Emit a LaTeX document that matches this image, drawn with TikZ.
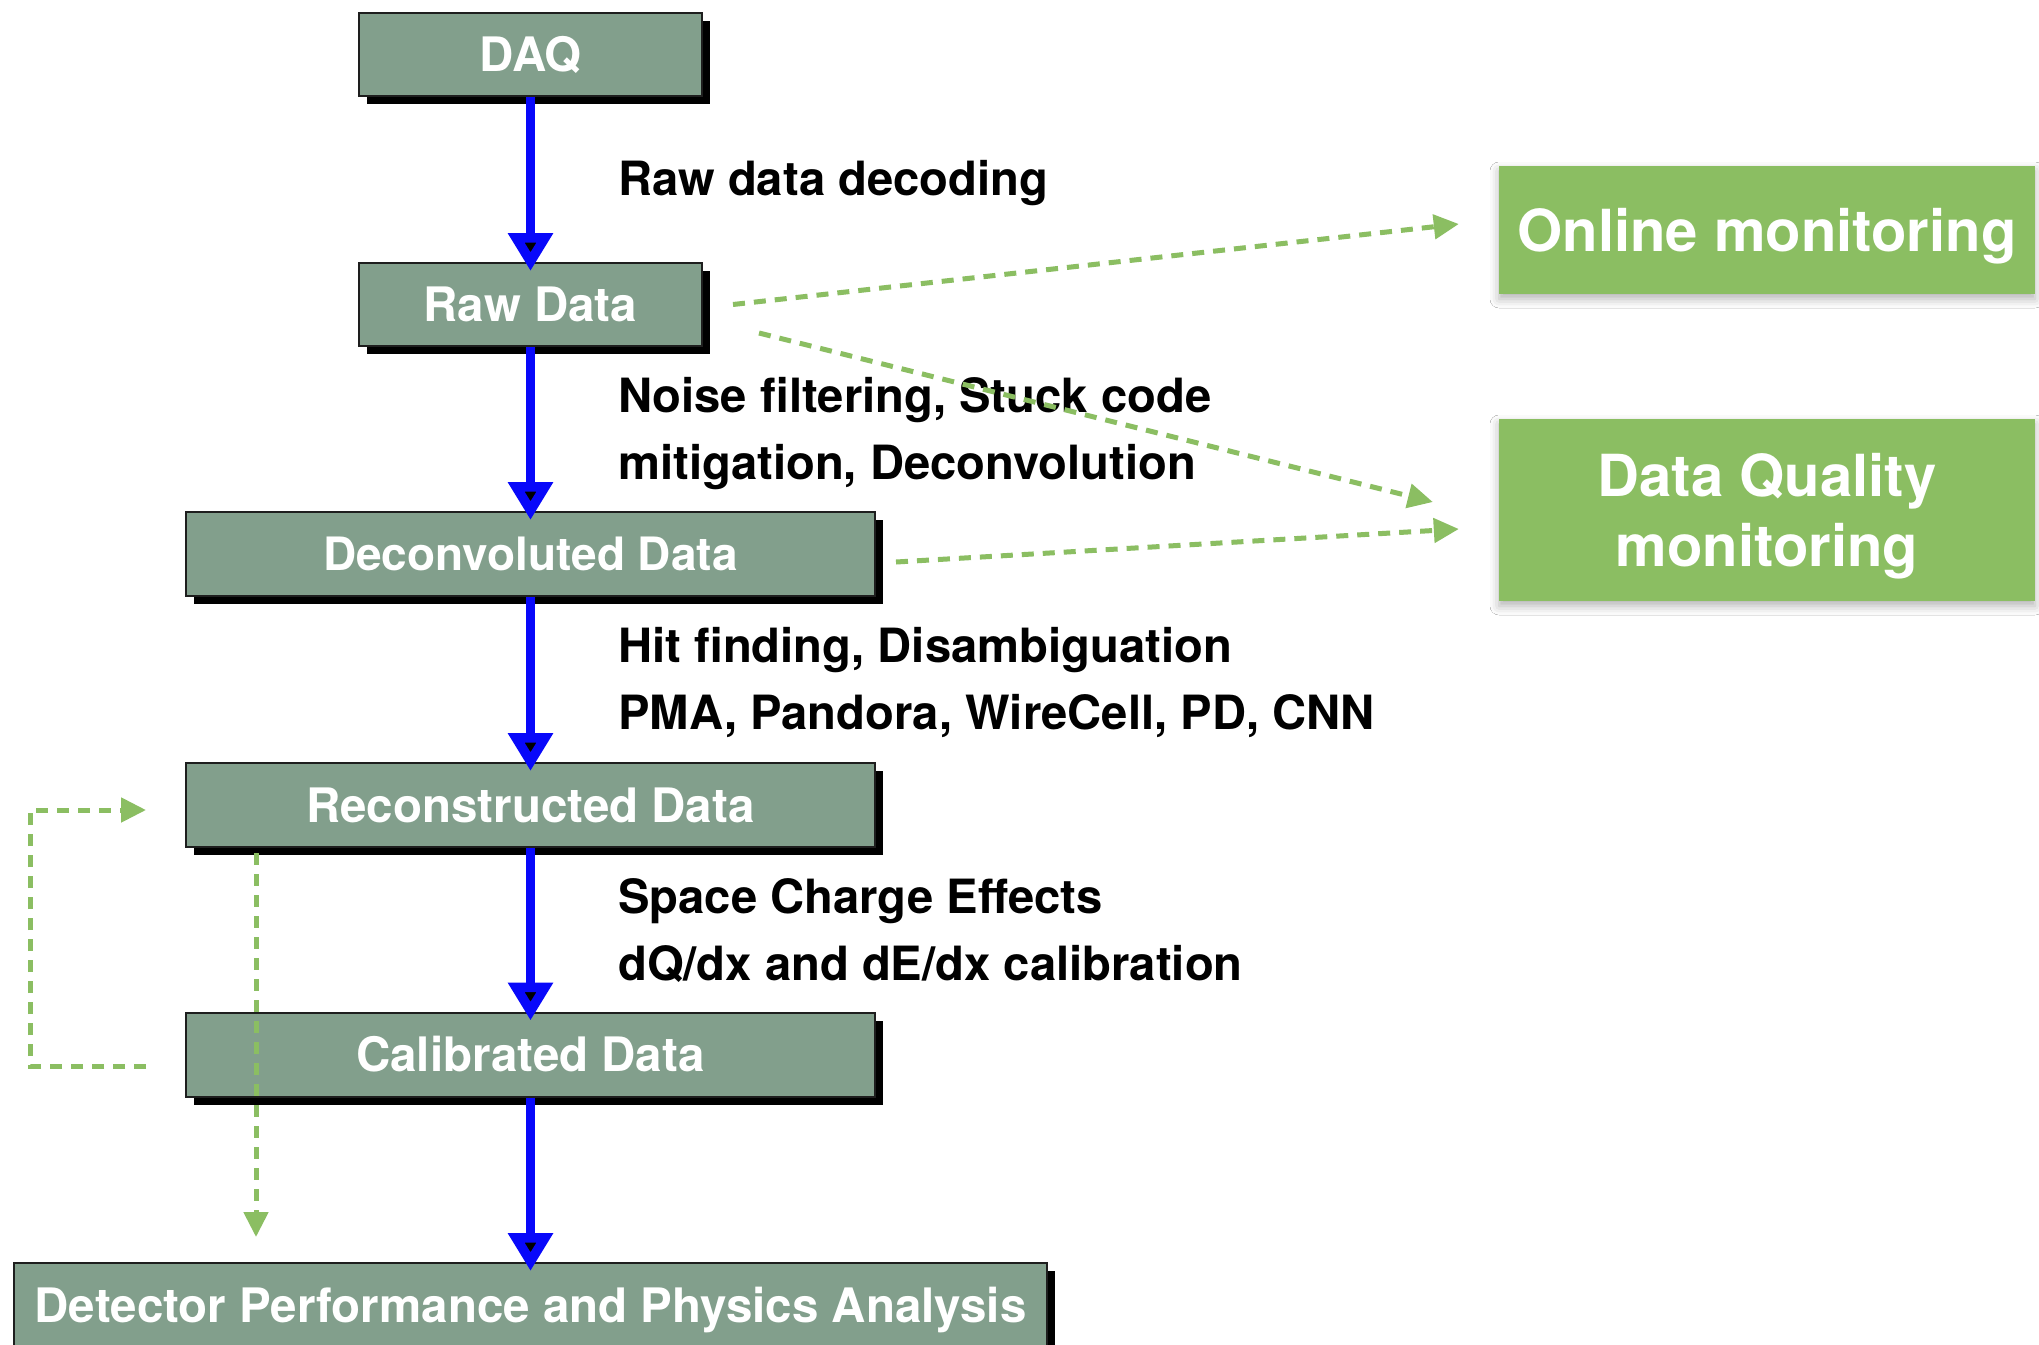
\documentclass[tikz,border=0pt]{standalone}
\usepackage{fontspec}
\setmainfont{TeX Gyre Heros}
\usetikzlibrary{arrows.meta,shadows,shadows.blur,calc}

\definecolor{boxgray}{RGB}{130,159,140}
\definecolor{boxedge}{RGB}{30,30,30}
\definecolor{monigreen}{RGB}{139,190,98}
\definecolor{flowblue}{RGB}{8,8,250}

\begin{document}
\begin{tikzpicture}[x=1pt,y=-1pt,
  stage/.style={draw=boxedge, line width=2pt, fill=boxgray, text=white,
    font=\fontsize{47.5}{57}\selectfont\bfseries, text height=34pt, text depth=0pt,
    inner sep=0pt,
    drop shadow={shadow xshift=8pt, shadow yshift=-8pt, fill=black, opacity=1}},
  monitor/.style={fill=monigreen, text=white, inner sep=0pt,
    font=\fontsize{58}{70}\selectfont\bfseries,
    blur shadow={shadow xshift=0pt, shadow yshift=-5pt, shadow blur radius=9pt, shadow opacity=30}},
  note/.style={anchor=base west, inner sep=0pt, font=\fontsize{47.2}{67}\selectfont\bfseries},
  flow/.style={draw=flowblue, line width=9pt, shorten >=-9pt,
    -{Triangle[length=38pt, width=43pt, line width=10pt, fill=black]}},
  feed/.style={draw=monigreen, line width=5pt, dash pattern=on 12pt off 9pt,
    -{Triangle[length=25pt, width=24pt]}}
]
\useasboundingbox (0,0) rectangle (2039,1344);
\clip (0,0) rectangle (2039,1344);
\fill[white] (0,0) rectangle (2039,1344);

% processing chain
\node[stage, minimum width=343pt, minimum height=83pt] (daq) at (530.5,54) {DAQ};
\node[stage, minimum width=343pt, minimum height=83pt] (raw) at (530.5,304.5) {Raw Data};
\node[stage, minimum width=689pt, minimum height=84pt, font=\fontsize{46}{55}\selectfont\bfseries, text height=33pt] (deconv) at (530.5,554) {Deconvoluted Data};
\node[stage, minimum width=689pt, minimum height=84pt] (reco) at (530.5,805) {Reconstructed Data};
\node[stage, minimum width=689pt, minimum height=84pt] (calib) at (530.5,1054.5) {Calibrated Data};
\node[stage, minimum width=1033pt, minimum height=84pt] (ana) at (530.5,1305) {Detector Performance and Physics Analysis};

% monitoring targets
\node[monitor, minimum width=536pt, minimum height=128pt, text height=42pt, text depth=0pt] (online) at (1767,230) {Online monitoring};
\node[monitor, minimum width=536pt, minimum height=182pt, align=center] (dqm) at (1767,510)
  {Data Quality\\\raisebox{0pt}[\height][0pt]{monitoring}};

% step descriptions
\node[note] (lraw) at (618,195) {Raw data decoding};
\node[note] (lsig) at (618,412) {\begin{tabular}[t]{@{}l@{}}Noise filtering, Stuck code\\mitigation, Deconvolution\end{tabular}};
\node[note] (lreco) at (618,662) {\begin{tabular}[t]{@{}l@{}}Hit finding, Disambiguation\\PMA, Pandora, WireCell, PD, CNN\end{tabular}};
\node[note] (lcal) at (618,913) {\begin{tabular}[t]{@{}l@{}}Space Charge Effects\\dQ/dx and dE/dx calibration\end{tabular}};

% main data flow
\draw[flow] (daq.south) -- (raw.north);
\draw[flow] (raw.south) -- (deconv.north);
\draw[flow] (deconv.south) -- (reco.north);
\draw[flow] (reco.south) -- (calib.north);
\draw[flow] (calib.south) -- (ana.north);

% monitoring and feedback paths
\draw[feed] ($(raw.east)+(30,0)$) -- ($(online.west)+(-40,-6)$);
\draw[feed] ($(raw.south east)+(56,-14)$) -- ($(dqm.west)+(-66,-8)$);
\draw[feed] ($(deconv.east)+(20,8)$) -- ($(dqm.west)+(-40,19)$);
\draw[feed] ($(calib.west)+(-39,11.5)$) -- ++(-116,0) |- ($(reco.west)+(-39,5)$);
\draw[feed] ($(reco.south west)+(71,5)$) -- ($(ana.north west)+(243,-25)$);
\end{tikzpicture}
\end{document}
